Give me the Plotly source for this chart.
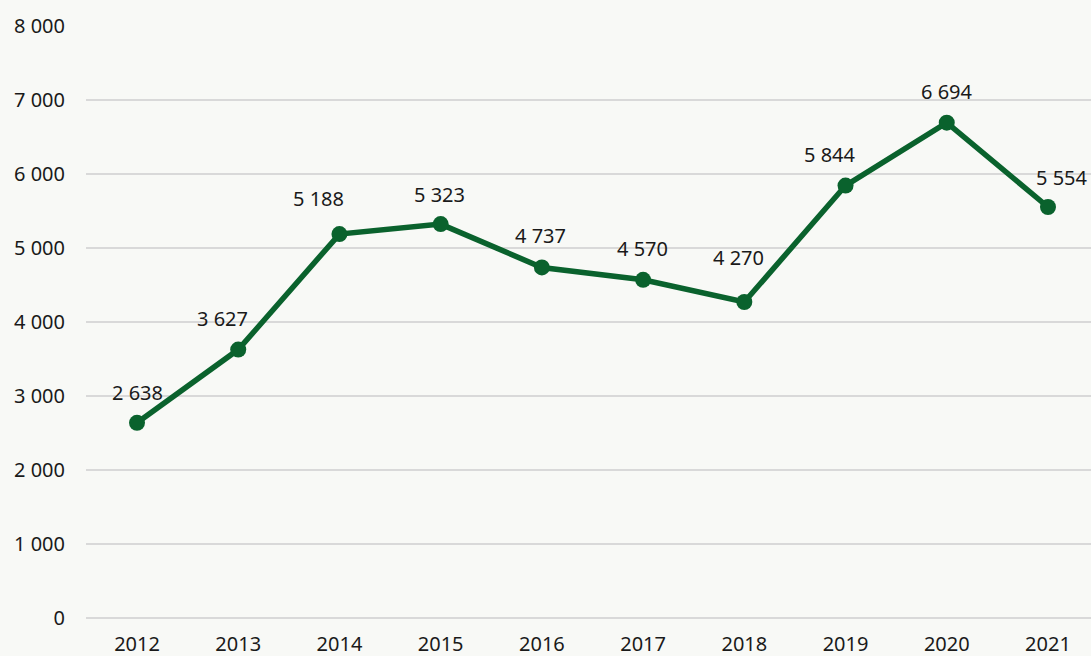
import plotly.graph_objects as go

years = ["2012", "2013", "2014", "2015", "2016", "2017", "2018", "2019", "2020", "2021"]
values = [2638, 3627, 5188, 5323, 4737, 4570, 4270, 5844, 6694, 5554]
value_labels = ["2 638", "3 627", "5 188", "5 323", "4 737", "4 570", "4 270", "5 844", "6 694", "5 554"]
y_ticks = [0, 1000, 2000, 3000, 4000, 5000, 6000, 7000, 8000]
y_tick_labels = ["0", "1 000", "2 000", "3 000", "4 000", "5 000", "6 000", "7 000", "8 000"]

# label offsets (styling only), in pixels
label_dx = [0, -16, -21, -1, -1, -1, -6, -16, 0, 14]
label_dy = [30, 31, 36, 30, 32, 31, 45, 31, 31, 30]

GREEN = "#0a622d"
BG = "#f8f9f6"
FONT = "Noto Sans"

x_idx = list(range(len(years)))

fig = go.Figure()
fig.add_trace(go.Scatter(
    x=x_idx, y=values, mode="lines+markers",
    line=dict(color=GREEN, width=5.5),
    marker=dict(color=GREEN, size=16),
    hoverinfo="skip", showlegend=False, cliponaxis=False,
))

for i, (v, t) in enumerate(zip(values, value_labels)):
    fig.add_annotation(
        x=x_idx[i], y=v, text=t, showarrow=False,
        xshift=label_dx[i], yshift=label_dy[i],
        font=dict(family=FONT, size=20, color="#1a1a1a"),
        xanchor="center", yanchor="middle",
    )

fig.update_layout(
    width=1091, height=656,
    margin=dict(l=86, r=0, t=26, b=38),
    paper_bgcolor=BG, plot_bgcolor=BG,
    font=dict(family=FONT, size=20, color="#1a1a1a"),
    xaxis=dict(
        range=[-0.504, 9.425], tickvals=x_idx, ticktext=years,
        showgrid=False, zeroline=False, showline=False,
        ticks="", ticklabelstandoff=12, fixedrange=True,
    ),
    yaxis=dict(
        range=[0, 8000], tickvals=y_ticks, ticktext=y_tick_labels,
        showgrid=True, gridcolor="#d9d9d9", gridwidth=1.5,
        zeroline=True, zerolinecolor="#d9d9d9", zerolinewidth=1.5,
        showline=False, ticks="", ticklabelstandoff=20, fixedrange=True,
    ),
)

fig.write_html(
    "out.html",
    config={"displayModeBar": False},
    post_script="document.body.style.margin='0';document.body.style.overflow='hidden';document.body.style.background='#f8f9f6';",
)
